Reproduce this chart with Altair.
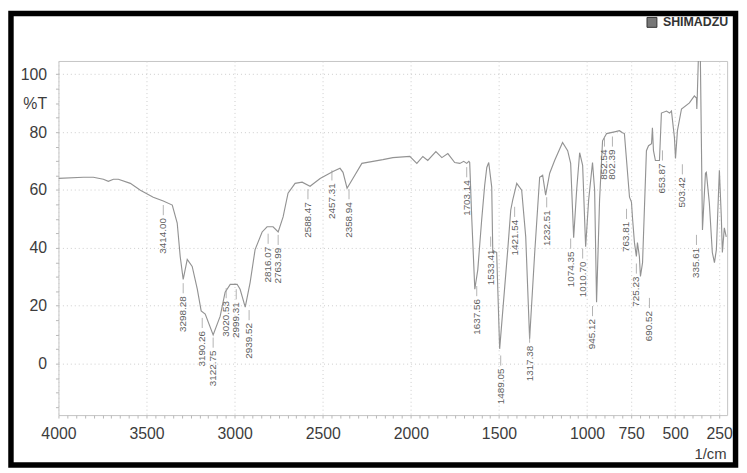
import altair as alt
import pandas as pd

# ---- spectrum (wavenumber 1/cm, %T) ----
wavenumber = [
    4000, 3858, 3802, 3745, 3717, 3688, 3660, 3592, 3535, 3462, 3405, 3354, 3326, 3309, 3292,
    3269, 3241, 3212, 3190, 3167, 3122, 3082, 3054, 3025, 2986, 2969, 2940, 2912, 2884, 2844,
    2816, 2782, 2753, 2725, 2697, 2657, 2617, 2572, 2515, 2442, 2402, 2385, 2362, 2329, 2278,
    2215, 2159, 2102, 2006, 1966, 1932, 1904, 1858, 1824, 1790, 1751, 1722, 1700, 1683, 1671,
    1666, 1654, 1637, 1620, 1598, 1581, 1569, 1558, 1541, 1535, 1524, 1513, 1496, 1467, 1450,
    1433, 1422, 1399, 1371, 1348, 1326, 1297, 1269, 1252, 1235, 1212, 1184, 1139, 1110, 1093,
    1076, 1059, 1042, 1025, 1008, 991, 969, 957, 946, 929, 912, 889, 844, 816, 799,
    788, 759, 748, 742, 731, 720, 714, 703, 697, 685, 663, 651, 634, 629, 623,
    612, 589, 578, 549, 532, 521, 504, 498, 487, 464, 419, 391, 379, 377, 374,
    368, 357, 345, 328, 323, 306, 289, 277, 266, 249, 238, 232, 221, 210,
]
transmittance = [
    64.0, 64.4, 64.4, 63.7, 63.0, 63.7, 63.7, 62.3, 59.9, 57.5, 56.2, 54.8, 48.6, 37.0, 29.1,
    36.0, 33.6, 25.7, 18.2, 17.1, 9.9, 16.4, 24.7, 27.4, 27.4, 25.7, 19.5, 28.1, 39.4, 45.5,
    47.3, 47.3, 45.5, 50.7, 58.9, 62.3, 62.7, 61.3, 64.0, 66.4, 67.5, 66.1, 60.6, 64.0, 69.2,
    69.9, 70.5, 71.2, 71.6, 69.2, 71.6, 70.2, 73.3, 71.2, 72.6, 69.5, 69.2, 69.9, 69.2, 69.9,
    69.5, 49.7, 25.7, 32.5, 49.7, 61.6, 67.8, 69.5, 61.0, 38.4, 38.7, 38.4, 5.1, 26.7, 39.4,
    53.1, 56.5, 62.3, 59.9, 43.8, 8.6, 38.4, 64.4, 65.1, 58.2, 65.8, 70.2, 76.4, 73.6, 69.2,
    43.5, 60.0, 72.9, 68.5, 40.4, 56.5, 69.5, 60.0, 21.2, 56.5, 77.0, 79.5, 80.1, 80.5, 79.8,
    79.5, 57.5, 55.8, 50.3, 41.8, 37.0, 41.8, 37.0, 30.1, 34.9, 73.6, 75.3, 76.0, 81.5, 73.6,
    70.2, 70.2, 86.6, 87.3, 86.6, 87.3, 78.1, 70.9, 80.5, 88.0, 90.1, 92.5, 91.8, 88.0, 93.2,
    106.0, 106.0, 46.2, 65.8, 66.1, 55.5, 38.4, 34.9, 39.4, 66.8, 50.7, 38.4, 46.9, 43.8,
]

# ---- peak annotations ----
peak_labels = [
    "3414.00", "3298.28", "3190.26", "3122.75", "3020.53", "2999.31", "2939.52", "2816.07",
    "2763.99", "2588.47", "2457.31", "2358.94", "1703.14", "1637.56", "1533.41", "1489.05",
    "1421.54", "1317.38", "1232.51", "1074.35", "1010.70", "945.12", "852.54", "802.39",
    "763.81", "725.23", "690.52", "653.87", "503.42", "335.61",
]
peak_label_x = [
    3405, 3292, 3184, 3122, 3048, 2991, 2918, 2810,
    2753, 2584, 2448, 2351, 1683, 1626, 1547, 1490,
    1411, 1326, 1229, 1093, 1025, 969, 901, 856,
    776, 720, 646, 572, 459, 379,
]
peak_label_top = [
    50.3, 23.3, 11.3, 4.5, 21.6, 21.2, 14.0, 40.4,
    40.0, 55.8, 62.3, 55.8, 63.4, 22.3, 39.4, -1.7,
    49.7, 6.2, 53.0, 38.7, 35.3, 15.4, 74.0, 74.0,
    49.0, 30.1, 18.2, 69.2, 64.4, 40.0,
]

x_major = [4000, 3500, 3000, 2500, 2000, 1500, 1000, 750, 500, 250]
x_minor = list(range(4000, 249, -50))
y_major = [100, 80, 60, 40, 20, 0]
y_unit_pos = 90
y_minor = list(range(-15, 106, 5))

W, H = 676, 358
LABEL_COLOR = "#3c3c3c"
FONT = "Liberation Sans"

spec = pd.DataFrame({"wn": wavenumber, "T": transmittance})
peaks = pd.DataFrame({"label": peak_labels, "wn": peak_label_x, "top": peak_label_top})
peaks["lead0"] = peaks["top"] + 1.0
peaks["lead1"] = peaks["top"] + 4.5

x_major_js = "[" + ",".join(str(v) for v in x_major) + "]"
y_major_js = "[" + ",".join(str(v) for v in y_major) + "]"

x_scale = alt.Scale(domain=[4000, 205], nice=False, zero=False)
y_scale = alt.Scale(domain=[-17.8, 104.6], nice=False, zero=False)

x_axis = alt.Axis(
    values=x_minor,
    format="d",
    labelExpr=f"indexof({x_major_js}, datum.value) >= 0 ? datum.label : ''",
    labelFlush=False,
    labelOverlap=False,
    labelBound=False,
    labelFont=FONT,
    labelFontSize=16,
    labelColor=LABEL_COLOR,
    labelPadding=8,
    tickColor="#b8b8b8",
    tickSize=3,
    domain=False,
    grid=True,
    gridColor="#cccccc",
    gridDash=[1, 3],
    gridOpacity={"condition": {"test": f"indexof({x_major_js}, datum.value) >= 0", "value": 1}, "value": 0},
    title="1/cm",
    titleFont=FONT,
    titleFontSize=15,
    titleFontWeight="normal",
    titleColor=LABEL_COLOR,
    titleAlign="right",
    titleBaseline="middle",
    titleAnchor="end",
    titleX=675,
    titleY=39,
)

y_axis = alt.Axis(
    values=y_minor,
    format="d",
    labelExpr=f"datum.value == {y_unit_pos} ? '%T' : (indexof({y_major_js}, datum.value) >= 0 ? datum.label : '')",
    labelOverlap=False,
    labelBound=False,
    labelFlush=False,
    labelFont=FONT,
    labelFontSize=16,
    labelColor=LABEL_COLOR,
    labelPadding=9,
    tickColor="#b8b8b8",
    tickSize=3,
    domain=False,
    grid=True,
    gridColor="#cccccc",
    gridDash=[1, 3],
    gridOpacity={"condition": {"test": f"indexof({y_major_js}, datum.value) >= 0", "value": 1}, "value": 0},
    title=None,
)

line = alt.Chart(spec).mark_line(color="#939393", strokeWidth=1.15, clip=True).encode(
    x=alt.X("wn:Q", scale=x_scale, axis=x_axis),
    y=alt.Y("T:Q", scale=y_scale, axis=y_axis),
)

leaders = alt.Chart(peaks).mark_rule(color="#a0a0a0", strokeWidth=0.8).encode(
    x=alt.X("wn:Q", scale=x_scale, axis=x_axis),
    y=alt.Y("lead0:Q", scale=y_scale, axis=y_axis),
    y2="lead1:Q",
)

labels = alt.Chart(peaks).mark_text(
    angle=270, align="right", baseline="middle", fontSize=10, font=FONT, color="#606060"
).encode(
    x=alt.X("wn:Q", scale=x_scale, axis=x_axis),
    y=alt.Y("top:Q", scale=y_scale, axis=y_axis),
    text="label:N",
)

frame = alt.Chart(pd.DataFrame({"k": [0]})).mark_rect(
    fillOpacity=0, stroke="black", strokeWidth=5.5
).encode(
    x=alt.value(-48), x2=alt.value(684.5), y=alt.value(-48), y2=alt.value(408.5)
)

logo_text = alt.Chart(pd.DataFrame({"t": ["SHIMADZU"]})).mark_text(
    align="right", baseline="middle", fontSize=12.5, fontWeight="bold", font=FONT, color="#333333"
).encode(x=alt.value(677), y=alt.value(-39), text="t:N")

logo_icon = alt.Chart(pd.DataFrame({"k": [0]})).mark_rect(
    fill="#777777", stroke="#333333", strokeWidth=1
).encode(x=alt.value(595), x2=alt.value(605), y=alt.value(-44), y2=alt.value(-34))

chart = alt.layer(line, leaders, labels, frame, logo_icon, logo_text).properties(
    width=W,
    height=H,
    autosize=alt.AutoSizeParams(type="none"),
    padding={"left": 51, "top": 51, "right": 12, "bottom": 56},
    background="white",
).configure_view(stroke="#c4c4c4", strokeWidth=1)

chart.save("out.html", embed_options={"renderer": "svg", "actions": False})
